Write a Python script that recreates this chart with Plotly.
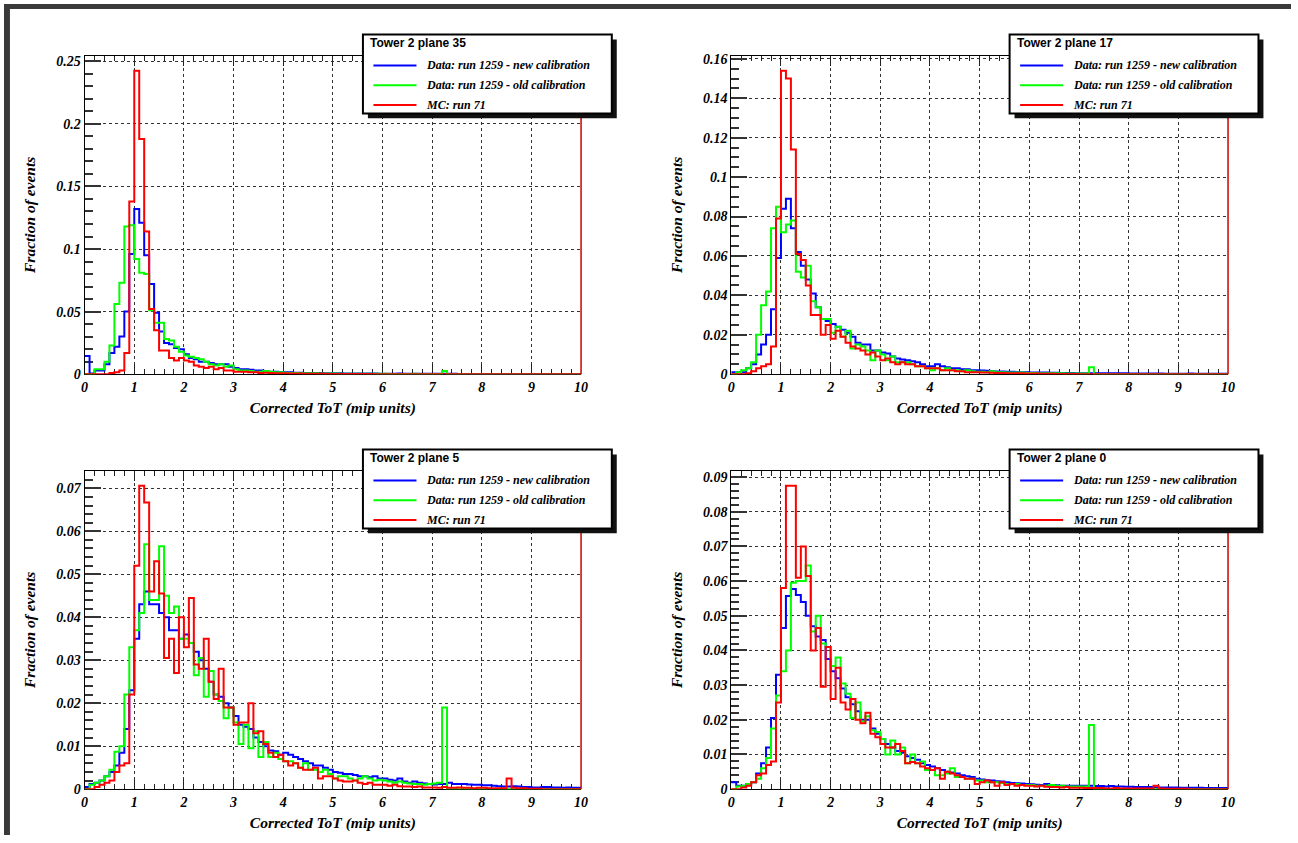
import numpy as np
import plotly.graph_objects as go

# ---------------- data (fraction of events per 0.1-mip bin, 0..10) ----------------
bin_edges = [round(0.1 * i, 1) for i in range(101)]

blue_p35 = [0.0145, 0.0005, 0.003, 0.003, 0.008, 0.017, 0.022, 0.030, 0.050, 0.096,
            0.132, 0.121, 0.095, 0.072, 0.049, 0.034, 0.025, 0.024, 0.021, 0.020,
            0.016, 0.013, 0.012, 0.010, 0.010, 0.009, 0.008, 0.008, 0.008, 0.006,
            0.005, 0.004, 0.004, 0.0035, 0.003, 0.003, 0.0025, 0.002, 0.002, 0.0018,
            0.0015, 0.0015, 0.0012, 0.0012, 0.001, 0.001, 0.0009, 0.0009, 0.0008, 0.0008,
            0.0007, 0.0007, 0.0006, 0.0006, 0.0006, 0.0005, 0.0005, 0.0005, 0.0005, 0.0004,
            0.0004, 0.0004, 0.0004, 0.0006, 0.0004, 0.0003, 0.0003, 0.0003, 0.0003, 0.0003,
            0.0003, 0.0003, 0.0004, 0.0003, 0.0003, 0.0002, 0.0002, 0.0002, 0.0002, 0.0002,
            0.0002, 0.0002, 0.0002, 0.0002, 0.0002, 0.0002, 0.0001, 0.0002, 0.0001, 0.0001,
            0.0001, 0.0001, 0.0001, 0.0001, 0.0001, 0.0001, 0.0001, 0.0001, 0.0001, 0.0001]
green_p35 = [0.0, 0.0, 0.004, 0.004, 0.010, 0.023, 0.056, 0.073, 0.118, 0.119,
             0.092, 0.081, 0.080, 0.051, 0.041, 0.041, 0.028, 0.027, 0.022, 0.018,
             0.015, 0.014, 0.013, 0.012, 0.010, 0.008, 0.007, 0.008, 0.006, 0.007,
             0.004, 0.003, 0.003, 0.0025, 0.002, 0.002, 0.0025, 0.002, 0.0015, 0.0015,
             0.0012, 0.001, 0.001, 0.0008, 0.0008, 0.0007, 0.0007, 0.0006, 0.0005, 0.0005,
             0.0005, 0.0004, 0.0004, 0.0004, 0.0004, 0.0003, 0.0003, 0.0003, 0.0003, 0.0003,
             0.0003, 0.0002, 0.0002, 0.0002, 0.0002, 0.0002, 0.0003, 0.0002, 0.0002, 0.0002,
             0.0002, 0.0002, 0.0025, 0.0, 0.0, 0.0, 0.0, 0.0, 0.0, 0.0,
             0.0, 0.0, 0.0, 0.0, 0.0, 0.0, 0.0, 0.0, 0.0, 0.0,
             0.0, 0.0, 0.0, 0.0, 0.0, 0.0, 0.0, 0.0, 0.0, 0.0]
red_p35 = [0.0, 0.0, 0.0, 0.0, 0.0, 0.001, 0.0015, 0.003, 0.017, 0.138,
           0.2425, 0.188, 0.114, 0.052, 0.035, 0.019, 0.019, 0.013, 0.011, 0.013,
           0.011, 0.010, 0.007, 0.006, 0.005, 0.006, 0.004, 0.005, 0.003, 0.003,
           0.002, 0.002, 0.002, 0.0015, 0.0015, 0.001, 0.0012, 0.001, 0.0008, 0.0008,
           0.0007, 0.0006, 0.0005, 0.0005, 0.0004, 0.0004, 0.0003, 0.0003, 0.0003, 0.0002,
           0.0002, 0.0002, 0.0002, 0.0001, 0.0001, 0.0001, 0.0001, 0.0001, 0.0, 0.0,
           0.0, 0.0, 0.0, 0.0, 0.0, 0.0, 0.0, 0.0, 0.0, 0.0,
           0.0, 0.0, 0.0, 0.0, 0.0, 0.0, 0.0, 0.0, 0.0, 0.0,
           0.0, 0.0, 0.0, 0.0, 0.0, 0.0, 0.0, 0.0, 0.0, 0.0,
           0.0, 0.0, 0.0, 0.0, 0.0, 0.0, 0.0, 0.0, 0.0, 0.0]

blue_p17 = [0.001, 0.001, 0.001, 0.003, 0.005, 0.010, 0.015, 0.020, 0.033, 0.059,
            0.084, 0.089, 0.074, 0.062, 0.055, 0.048, 0.041, 0.034, 0.028, 0.027,
            0.0255, 0.024, 0.0225, 0.021, 0.019, 0.016, 0.015, 0.015, 0.012, 0.012,
            0.011, 0.0105, 0.009, 0.008, 0.0075, 0.007, 0.0065, 0.006, 0.005, 0.004,
            0.004, 0.005, 0.004, 0.0035, 0.003, 0.003, 0.0025, 0.0025, 0.002, 0.002,
            0.0018, 0.0017, 0.0015, 0.0014, 0.0014, 0.0012, 0.0012, 0.001, 0.001, 0.001,
            0.0009, 0.0008, 0.0008, 0.0008, 0.0007, 0.0007, 0.0006, 0.0006, 0.0006, 0.0005,
            0.0005, 0.0005, 0.0005, 0.0005, 0.0004, 0.0004, 0.0004, 0.0004, 0.0004, 0.0004,
            0.0003, 0.0003, 0.0003, 0.0003, 0.0003, 0.0003, 0.0003, 0.0002, 0.0002, 0.0002,
            0.0002, 0.0002, 0.0003, 0.0002, 0.0002, 0.0002, 0.0002, 0.0002, 0.0002, 0.0002]
green_p17 = [0.0, 0.001, 0.002, 0.003, 0.006, 0.020, 0.035, 0.042, 0.074, 0.085,
             0.072, 0.076, 0.078, 0.052, 0.049, 0.055, 0.037, 0.034, 0.028, 0.028,
             0.021, 0.024, 0.019, 0.022, 0.013, 0.015, 0.014, 0.012, 0.007, 0.012,
             0.010, 0.007, 0.009, 0.006, 0.006, 0.006, 0.005, 0.004, 0.004, 0.003,
             0.002, 0.003, 0.002, 0.003, 0.002, 0.002, 0.0015, 0.002, 0.0015, 0.0012,
             0.0012, 0.001, 0.0015, 0.001, 0.001, 0.0008, 0.0008, 0.0007, 0.0008, 0.0006,
             0.0006, 0.0005, 0.0005, 0.0004, 0.0005, 0.0004, 0.0004, 0.0003, 0.0003, 0.0003,
             0.0003, 0.0003, 0.0035, 0.0, 0.0, 0.0, 0.0, 0.0, 0.0, 0.0,
             0.0, 0.0, 0.0, 0.0, 0.0, 0.0, 0.0, 0.0, 0.0, 0.0,
             0.0, 0.0, 0.0, 0.0, 0.0, 0.0, 0.0, 0.0, 0.0, 0.0]
red_p17 = [0.0, 0.0, 0.0, 0.0005, 0.0015, 0.003, 0.004, 0.005, 0.014, 0.079,
           0.154, 0.150, 0.114, 0.061, 0.058, 0.045, 0.030, 0.030, 0.020, 0.025,
           0.018, 0.022, 0.019, 0.016, 0.014, 0.013, 0.012, 0.010, 0.011, 0.009,
           0.007, 0.008, 0.006, 0.005, 0.006, 0.005, 0.005, 0.004, 0.004, 0.003,
           0.003, 0.003, 0.002, 0.002, 0.002, 0.0015, 0.0015, 0.001, 0.001, 0.001,
           0.0008, 0.0008, 0.0007, 0.0006, 0.0006, 0.0005, 0.0005, 0.0004, 0.0004, 0.0003,
           0.0003, 0.0003, 0.0002, 0.0002, 0.0002, 0.0001, 0.0001, 0.0001, 0.0001, 0.0001,
           0.0, 0.0, 0.0, 0.0, 0.0, 0.0, 0.0, 0.0, 0.0, 0.0,
           0.0, 0.0, 0.0, 0.0, 0.0, 0.0, 0.0, 0.0, 0.0, 0.0,
           0.0, 0.0, 0.0, 0.0, 0.0, 0.0, 0.0, 0.0, 0.0, 0.0]

blue_p5 = [0.0005, 0.0012, 0.0015, 0.002, 0.003, 0.004, 0.0055, 0.0085, 0.014, 0.023,
           0.035, 0.043, 0.046, 0.043, 0.043, 0.041, 0.040, 0.037, 0.037, 0.035,
           0.036, 0.034, 0.032, 0.030, 0.028, 0.025, 0.022, 0.0215, 0.020, 0.019,
           0.017, 0.015, 0.0145, 0.014, 0.012, 0.011, 0.010, 0.009, 0.0088, 0.008,
           0.0085, 0.008, 0.0075, 0.007, 0.0065, 0.006, 0.0055, 0.0055, 0.005, 0.0045,
           0.004, 0.0038, 0.0035, 0.0035, 0.0033, 0.003, 0.003, 0.0028, 0.003, 0.0025,
           0.0025, 0.0022, 0.002, 0.0025, 0.0018, 0.0015, 0.0018, 0.0015, 0.0013, 0.0012,
           0.0011, 0.0012, 0.0012, 0.0015, 0.0012, 0.0012, 0.0012, 0.0011, 0.001, 0.001,
           0.0009, 0.0009, 0.0008, 0.0007, 0.0006, 0.0006, 0.0007, 0.0006, 0.0005, 0.0005,
           0.0004, 0.0004, 0.0005, 0.0005, 0.0004, 0.0004, 0.0003, 0.0004, 0.0003, 0.0003]
green_p5 = [0.0, 0.001, 0.0015, 0.002, 0.003, 0.0045, 0.0087, 0.010, 0.022, 0.033,
            0.037, 0.041, 0.057, 0.044, 0.044, 0.0565, 0.045, 0.041, 0.0425, 0.035,
            0.035, 0.034, 0.0265, 0.0305, 0.0215, 0.0275, 0.022, 0.0205, 0.0165, 0.019,
            0.0155, 0.0105, 0.015, 0.0095, 0.0135, 0.0075, 0.011, 0.0075, 0.0085, 0.007,
            0.0065, 0.0065, 0.006, 0.005, 0.006, 0.0045, 0.0045, 0.004, 0.0045, 0.0035,
            0.0025, 0.003, 0.003, 0.0025, 0.002, 0.0025, 0.003, 0.0025, 0.002, 0.0022,
            0.002, 0.0018, 0.0015, 0.0018, 0.0015, 0.0013, 0.0012, 0.0012, 0.001, 0.0012,
            0.0013, 0.0015, 0.019, 0.0, 0.0, 0.0, 0.0, 0.0, 0.0, 0.0,
            0.0, 0.0, 0.0, 0.0, 0.0, 0.0, 0.0, 0.0, 0.0, 0.0,
            0.0, 0.0, 0.0, 0.0, 0.0, 0.0, 0.0, 0.0, 0.0, 0.0]
red_p5 = [0.0, 0.0, 0.0005, 0.001, 0.0015, 0.002, 0.004, 0.0055, 0.006, 0.022,
          0.052, 0.0706, 0.0667, 0.046, 0.053, 0.0455, 0.0305, 0.035, 0.027, 0.040,
          0.033, 0.0445, 0.029, 0.028, 0.035, 0.025, 0.021, 0.028, 0.019, 0.019,
          0.015, 0.0155, 0.0155, 0.020, 0.013, 0.0135, 0.0105, 0.0085, 0.0075, 0.008,
          0.0065, 0.0055, 0.006, 0.005, 0.0045, 0.0045, 0.005, 0.0025, 0.003, 0.003,
          0.0025, 0.002, 0.0018, 0.0018, 0.002, 0.0015, 0.0012, 0.0015, 0.001, 0.001,
          0.001, 0.0008, 0.001, 0.0007, 0.0006, 0.0006, 0.0005, 0.0006, 0.0004, 0.0004,
          0.0004, 0.0003, 0.0005, 0.0003, 0.0003, 0.0004, 0.0003, 0.0003, 0.0002, 0.0003,
          0.0003, 0.0002, 0.0002, 0.0002, 0.0002, 0.0025, 0.0003, 0.0002, 0.0002, 0.0001,
          0.0001, 0.0001, 0.0, 0.0, 0.0, 0.0, 0.0, 0.0, 0.0, 0.0]

blue_p0 = [0.002, 0.001, 0.001, 0.0015, 0.002, 0.0045, 0.0075, 0.012, 0.0205, 0.033,
           0.0465, 0.0557, 0.0577, 0.056, 0.054, 0.050, 0.047, 0.044, 0.043, 0.0375,
           0.034, 0.032, 0.029, 0.0265, 0.0245, 0.0225, 0.020, 0.020, 0.0175, 0.016,
           0.0145, 0.013, 0.012, 0.011, 0.0105, 0.0095, 0.009, 0.0085, 0.0075, 0.007,
           0.0065, 0.006, 0.0055, 0.005, 0.0048, 0.0045, 0.004, 0.0037, 0.0035, 0.003,
           0.0028, 0.0026, 0.0025, 0.0023, 0.0022, 0.002, 0.0018, 0.0017, 0.0016, 0.0015,
           0.0014, 0.0013, 0.0012, 0.0015, 0.0012, 0.0011, 0.001, 0.001, 0.001, 0.001,
           0.001, 0.001, 0.001, 0.0009, 0.0009, 0.0008, 0.0009, 0.0008, 0.0008, 0.0007,
           0.0007, 0.0006, 0.0006, 0.0006, 0.0006, 0.0005, 0.0005, 0.0005, 0.0005, 0.0005,
           0.0004, 0.0004, 0.0004, 0.0004, 0.0004, 0.0003, 0.0003, 0.0003, 0.0003, 0.0003]
green_p0 = [0.0, 0.0008, 0.001, 0.0015, 0.002, 0.003, 0.006, 0.009, 0.0175, 0.027,
            0.034, 0.040, 0.0595, 0.060, 0.060, 0.0645, 0.0455, 0.050, 0.042, 0.041,
            0.0355, 0.038, 0.0305, 0.0275, 0.0205, 0.025, 0.0195, 0.021, 0.017, 0.0165,
            0.0145, 0.010, 0.014, 0.010, 0.012, 0.0075, 0.010, 0.0075, 0.008, 0.0055,
            0.0055, 0.004, 0.004, 0.0045, 0.006, 0.0035, 0.0035, 0.003, 0.003, 0.0025,
            0.0025, 0.002, 0.002, 0.002, 0.0018, 0.0015, 0.0015, 0.0015, 0.0012, 0.0012,
            0.0012, 0.001, 0.001, 0.001, 0.0012, 0.001, 0.001, 0.0008, 0.0008, 0.0008,
            0.0008, 0.0008, 0.0185, 0.0, 0.0, 0.0, 0.0, 0.0, 0.0, 0.0,
            0.0, 0.0, 0.0, 0.0, 0.0, 0.0, 0.0, 0.0, 0.0, 0.0,
            0.0, 0.0, 0.0, 0.0, 0.0, 0.0, 0.0, 0.0, 0.0, 0.0]
red_p0 = [0.0, 0.0, 0.0005, 0.001, 0.002, 0.004, 0.0045, 0.007, 0.008, 0.025,
          0.058, 0.0875, 0.0875, 0.061, 0.070, 0.0615, 0.040, 0.0465, 0.0295, 0.041,
          0.026, 0.035, 0.025, 0.023, 0.026, 0.020, 0.019, 0.022, 0.016, 0.015,
          0.013, 0.012, 0.012, 0.013, 0.011, 0.0075, 0.0078, 0.0075, 0.0065, 0.006,
          0.0055, 0.006, 0.003, 0.005, 0.0045, 0.004, 0.0035, 0.003, 0.003, 0.0015,
          0.002, 0.0025, 0.002, 0.001, 0.002, 0.0012, 0.0015, 0.001, 0.0012, 0.001,
          0.001, 0.0008, 0.001, 0.0007, 0.0006, 0.0006, 0.0005, 0.0006, 0.0004, 0.0004,
          0.0004, 0.0003, 0.0003, 0.0003, 0.0003, 0.0002, 0.0002, 0.0003, 0.0002, 0.0002,
          0.0002, 0.0002, 0.0002, 0.0002, 0.0002, 0.001, 0.0002, 0.0001, 0.0001, 0.0001,
          0.0001, 0.0001, 0.0, 0.0, 0.0, 0.0, 0.0, 0.0, 0.0, 0.0]

panel_titles = ["Tower 2 plane 35", "Tower 2 plane 17", "Tower 2 plane 5", "Tower 2 plane 0"]
series_names = ["Data: run 1259 - new calibration", "Data: run 1259 - old calibration", "MC: run 71"]
x_label = "Corrected ToT (mip units)"
y_label = "Fraction of events"
y_major = [0.05, 0.02, 0.01, 0.01]
y_minor = [0.01, 0.005, 0.002, 0.002]

panels = [
    (blue_p35, green_p35, red_p35),
    (blue_p17, green_p17, red_p17),
    (blue_p5, green_p5, red_p5),
    (blue_p0, green_p0, red_p0),
]

# ---------------- layout geometry (pixels) ----------------
W, H = 1298, 843
colors = ["#0000ff", "#00ff00", "#ff0000"]
# frame boxes: (left, right, top, bottom)
frames = [(81.3, 582.0, 52.3, 375.5), (733.5, 1234.5, 52.3, 375.5),
          (81.3, 582.0, 473.3, 796.5), (733.5, 1234.5, 473.3, 796.5)]
offsets = [(0, 0), (652.2, 0), (0, 421.0), (652.2, 421.0)]

def px(x):
    return x / W

def py(y):
    return 1 - y / H

serif = "Liberation Serif"
sans = "Liberation Sans"
tickfont = dict(family=serif, size=14, color="black", weight="bold", style="italic")
titlefont = dict(family=serif, size=15.5, color="black", weight="bold", style="italic")

fig = go.Figure()
shapes = []
annotations = []

# dark photo border of the slide
shapes.append(dict(type="rect", xref="paper", yref="paper", x0=0, x1=1, y0=py(5), y1=1,
                   fillcolor="#3a3a3a", line_width=0, layer="below"))
shapes.append(dict(type="rect", xref="paper", yref="paper", x0=0, x1=px(6), y0=0, y1=1,
                   fillcolor="#3a3a3a", line_width=0, layer="below"))

layout_axes = {}
for i, (series, fr) in enumerate(zip(panels, frames)):
    n = i + 1
    xa = "xaxis" if n == 1 else f"xaxis{n}"
    ya = "yaxis" if n == 1 else f"yaxis{n}"
    xr = "x" if n == 1 else f"x{n}"
    yr = "y" if n == 1 else f"y{n}"
    ymax = 1.05 * max(max(s) for s in series)

    for s, c, name in zip(series, colors, series_names):
        fig.add_trace(go.Scatter(
            x=bin_edges, y=list(s) + [s[-1]], mode="lines", line_shape="hv",
            line=dict(color=c, width=2), name=name, showlegend=False,
            xaxis=xr, yaxis=yr, hoverinfo="skip"))

    l, r, t, b = fr
    layout_axes[xa] = dict(
        domain=[px(l), px(r)], anchor=yr, range=[0, 10], tick0=0, dtick=1,
        showline=True, linecolor="black", linewidth=1, mirror="ticks",
        ticks="inside", ticklen=10, tickwidth=1, tickcolor="#222",
        showgrid=True, gridcolor="#333", griddash="dot", gridwidth=1,
        zeroline=False, tickfont=tickfont, layer="below traces",
        minor=dict(ticks="inside", ticklen=5, dtick=0.2, tickcolor="#222", showgrid=False),
        title=dict(text=x_label, font=titlefont, standoff=8),
    )
    layout_axes[ya] = dict(
        domain=[py(b), py(t)], anchor=xr, range=[0, ymax], tick0=0, dtick=y_major[i],
        showline=True, linecolor="black", linewidth=1, mirror=False,
        ticks="inside", ticklen=16, tickwidth=1.5, tickcolor="#333",
        showgrid=True, gridcolor="#333", griddash="dot", gridwidth=1,
        zeroline=False, tickfont=tickfont, layer="below traces",
        minor=dict(ticks="inside", ticklen=8, dtick=y_minor[i], tickcolor="#333",
                   tickwidth=1.5, showgrid=False),
        title=dict(text=y_label, font=titlefont, standoff=16),
    )

    # right edge of the frame drawn in red
    shapes.append(dict(type="line", xref=f"{xr} domain", yref=f"{yr} domain",
                       x0=1, x1=1, y0=0, y1=1, line=dict(color="#cc0000", width=1.5),
                       layer="above"))

    # legend box with shadow
    dx, dy = offsets[i]
    bx0, bx1, by0, by1 = 362 + dx, 613 + dx, 31 + dy, 111 + dy
    shapes.append(dict(type="rect", xref="paper", yref="paper",
                       x0=px(bx0 + 5), x1=px(bx1 + 5), y0=py(by1 + 5), y1=py(by0 + 5),
                       fillcolor="#111", line_width=0, layer="above"))
    shapes.append(dict(type="rect", xref="paper", yref="paper",
                       x0=px(bx0), x1=px(bx1), y0=py(by1), y1=py(by0),
                       fillcolor="white", line=dict(color="black", width=2), layer="above"))
    annotations.append(dict(xref="paper", yref="paper", x=px(367 + dx), y=py(39.5 + dy),
                            xanchor="left", yanchor="middle", showarrow=False,
                            text=panel_titles[i],
                            font=dict(family=sans, size=12, color="black", weight="bold")))
    for k, (c, name) in enumerate(zip(colors, series_names)):
        ly = [62.3, 82.3, 102.5][k] + dy
        shapes.append(dict(type="line", xref="paper", yref="paper",
                           x0=px(372.6 + dx), x1=px(416 + dx), y0=py(ly), y1=py(ly),
                           line=dict(color=c, width=2), layer="above"))
        annotations.append(dict(xref="paper", yref="paper", x=px(424 + dx), y=py(ly),
                                xanchor="left", yanchor="middle", showarrow=False,
                                text=name,
                                font=dict(family=serif, size=12, color="black",
                                          weight="bold", style="italic")))

fig.update_layout(
    width=W, height=H, margin=dict(l=0, r=0, t=0, b=0),
    paper_bgcolor="white", plot_bgcolor="white", showlegend=False,
    shapes=shapes, annotations=annotations, **layout_axes,
)

fig.write_html("out.html",
               config={"displayModeBar": False},
               post_script="document.body.style.margin='0';document.body.style.overflow='hidden';")
